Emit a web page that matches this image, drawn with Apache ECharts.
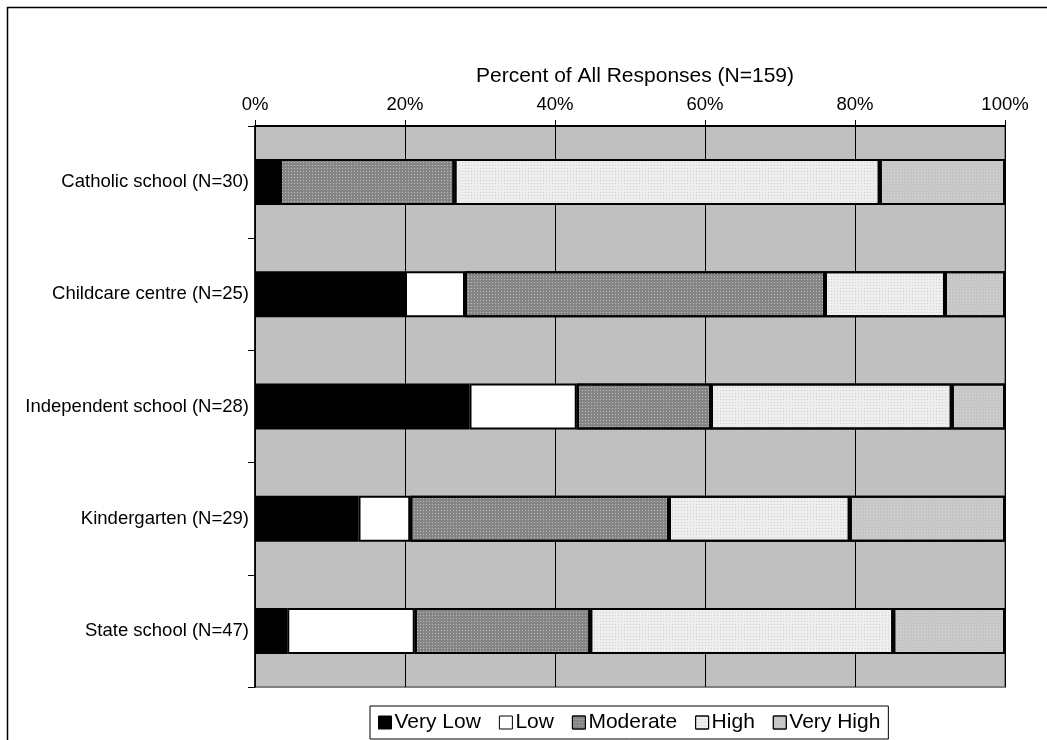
<!DOCTYPE html>
<html>
<head>
<meta charset="utf-8">
<script src="https://cdn.jsdelivr.net/npm/echarts@6/dist/echarts.min.js"></script>
<style>
html,body{margin:0;padding:0;background:#fff;}
#chart{width:1047px;height:740px;}
</style>
</head>
<body>
<div id="chart"></div>
<script>
const categories = ['Catholic school (N=30)', 'Childcare centre (N=25)', 'Independent school (N=28)', 'Kindergarten (N=29)', 'State school (N=47)'];
const seriesNames = ['Very Low', 'Low', 'Moderate', 'High', 'Very High'];
const veryLow = [3.3, 20.0, 28.6, 13.8, 4.3];
const low = [0, 8.0, 14.3, 6.9, 17.0];
const moderate = [23.3, 48.0, 17.9, 34.5, 23.4];
const high = [56.7, 16.0, 32.1, 24.1, 40.4];
const veryHigh = [16.7, 8.0, 7.1, 20.7, 14.9];
const xTicks = [0, 20, 40, 60, 80, 100];

const FONT = 'Liberation Sans, Arial, sans-serif';
const dataSets = [veryLow, low, moderate, high, veryHigh];
const fills = ['#000000', '#ffffff', '#858585', '#eeeeee', '#c6c6c6'];
const decals = [
  null,
  null,
  {symbol: 'rect', symbolSize: 1, color: 'rgba(255,255,255,0.45)', dashArrayX: [1, 2], dashArrayY: [1, 2]},
  {symbol: 'rect', symbolSize: 1, color: 'rgba(170,170,170,0.45)', dashArrayX: [1, 2], dashArrayY: [1, 2]},
  {symbol: 'rect', symbolSize: 1, color: 'rgba(225,225,225,0.6)', dashArrayX: [1, 2], dashArrayY: [1, 2]}
];

const chart = echarts.init(document.getElementById('chart'), null, {renderer: 'canvas'});
const series = seriesNames.map((name, i) => {
  const style = {color: fills[i], borderColor: '#000', borderWidth: 2};
  if (decals[i]) style.decal = decals[i];
  return {
    name: name,
    type: 'bar',
    stack: 'total',
    barWidth: 46,
    data: dataSets[i],
    itemStyle: style,
    emphasis: {disabled: true},
    animation: false
  };
});

chart.setOption({
  animation: false,
  textStyle: {fontFamily: FONT, color: '#000'},
  graphic: [{
    type: 'rect',
    z: -10,
    shape: {x: 7.5, y: 7.5, width: 1100, height: 800},
    style: {fill: 'none', stroke: '#000', lineWidth: 1.5}
  }],
  title: {
    text: 'Percent of All Responses (N=159)',
    left: 630,
    textAlign: 'center',
    top: 61,
    textStyle: {fontFamily: FONT, fontSize: 21, fontWeight: 'normal', color: '#000'}
  },
  legend: {
    data: seriesNames,
    left: 370,
    top: 706,
    orient: 'horizontal',
    itemWidth: 13,
    itemHeight: 13,
    itemGap: 18,
    padding: [6, 8, 6, 8],
    backgroundColor: '#fff',
    borderColor: '#000',
    borderWidth: 1,
    borderRadius: 0,
    icon: 'rect',
    selectedMode: false,
    textStyle: {fontFamily: FONT, fontSize: 21, color: '#000', padding: [0, 0, 0, -2]},
    itemStyle: {borderColor: '#000', borderWidth: 1}
  },
  grid: {
    left: 255, right: 42, top: 126, bottom: 53,
    show: true,
    backgroundColor: '#c0c0c0',
    borderColor: '#808080',
    borderWidth: 2
  },
  xAxis: {
    type: 'value',
    position: 'top',
    min: 0,
    max: 100,
    interval: 20,
    axisLine: {show: true, lineStyle: {color: '#000', width: 2}},
    axisTick: {show: true, length: 6, lineStyle: {color: '#000', width: 1}},
    axisLabel: {
      fontFamily: FONT, fontSize: 18.5, color: '#000', margin: 12,
      formatter: v => xTicks.includes(v) ? v + '%' : ''
    },
    splitLine: {show: true, lineStyle: {color: '#000', width: 1}}
  },
  yAxis: {
    type: 'category',
    data: categories,
    inverse: true,
    axisLine: {show: true, lineStyle: {color: '#000', width: 1.5}},
    axisTick: {show: true, length: 7, lineStyle: {color: '#000', width: 1}},
    axisLabel: {fontFamily: FONT, fontSize: 18.5, color: '#000', margin: 6}
  },
  series: series
});
</script>
</body>
</html>
